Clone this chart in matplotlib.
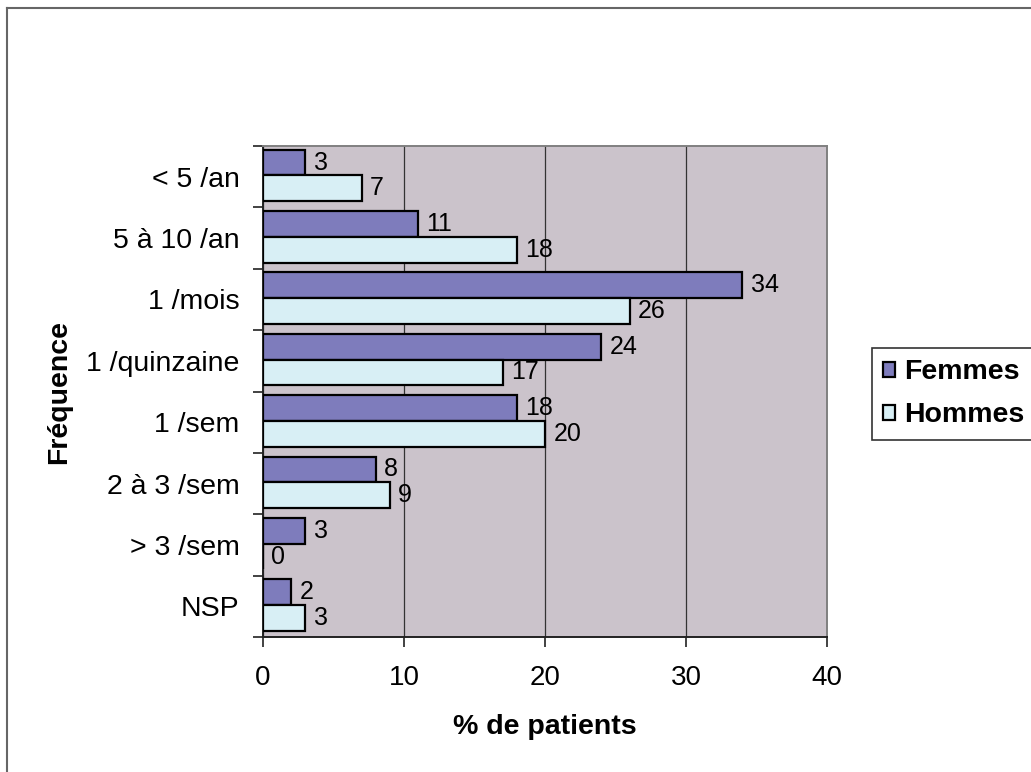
import matplotlib
matplotlib.use("Agg")
import matplotlib.pyplot as plt
import numpy as np
from matplotlib.lines import Line2D

plt.rcParams['font.family'] = ['Liberation Sans', 'DejaVu Sans']

categories = ["< 5 /an", "5 à 10 /an", "1 /mois", "1 /quinzaine", "1 /sem",
              "2 à 3 /sem", "> 3 /sem", "NSP"]
femmes = [3, 11, 34, 24, 18, 8, 3, 2]
hommes = [7, 18, 26, 17, 20, 9, 0, 3]
xticks = [0, 10, 20, 30, 40]

col_f = "#7E7CBC"
col_h = "#D8EFF5"
bg = "#CBC3CB"

fig = plt.figure(figsize=(10.31, 7.72), dpi=100)
ax = fig.add_axes([263/1031, 1-637/772, (827-263)/1031, (637-146)/772])
ax.set_facecolor(bg)

y = np.arange(len(categories))
h = 0.42
shift = -0.02
bf = ax.barh(y - h/2 + shift, femmes, height=h, color=col_f, edgecolor="black",
             linewidth=1.6, label="Femmes", zorder=3)
bh = ax.barh(y + h/2 + shift, hommes, height=h, color=col_h, edgecolor="black",
             linewidth=1.6, label="Hommes", zorder=3)

for rects, vals in ((bf, femmes), (bh, hommes)):
    for r, v in zip(rects, vals):
        ax.annotate(str(v), (v, r.get_y() + r.get_height()/2),
                    xytext=(6, 0), textcoords="offset points",
                    ha="left", va="center", fontsize=18, zorder=4)

ax.set_xlim(0, 40)
ax.set_ylim(len(categories) - 0.5, -0.5)
ax.set_xticks(xticks)
ax.set_xticklabels([str(t) for t in xticks], fontsize=20)
ax.set_yticks(y)
ax.set_yticklabels(categories, fontsize=20.5)
ax.tick_params(axis="y", length=0, pad=17)
ax.set_yticks(np.arange(len(categories) + 1) - 0.5, minor=True)
ax.tick_params(axis="y", which="minor", length=7, width=1.2, color="#222222")
ax.tick_params(axis="x", length=7, width=1.2, pad=13, color="#222222")

ax.grid(axis="x", color="#333333", linewidth=0.9, zorder=1)
ax.set_axisbelow(True)
for s in ("left", "bottom"):
    ax.spines[s].set_color("#222222")
    ax.spines[s].set_linewidth(1.4)
for s in ("top", "right"):
    ax.spines[s].set_color("#808080")
    ax.spines[s].set_linewidth(1.4)

ax.set_xlabel("% de patients", fontsize=20.5, fontweight="bold", labelpad=17)
ax.set_ylabel("Fréquence", fontsize=20.5, fontweight="bold", labelpad=10)

leg = fig.legend(handles=[bf, bh], labels=["Femmes", "Hommes"],
                 loc="upper left", bbox_to_anchor=(872/1031, 1-348/772),
                 prop={"size": 20.5, "weight": "bold"}, frameon=True,
                 fancybox=False, edgecolor="black", handlelength=0.42,
                 handleheight=0.42, handletextpad=0.3, labelspacing=0.6,
                 borderpad=0.4, borderaxespad=0)
leg.get_frame().set_linewidth(1.2)

# outer border (left and top lines)
fig.add_artist(Line2D([7/1031, 7/1031], [0, 1-8/772], transform=fig.transFigure,
                      color="#666666", linewidth=1.5))
fig.add_artist(Line2D([7/1031, 1], [1-8/772, 1-8/772], transform=fig.transFigure,
                      color="#666666", linewidth=1.5))

fig.savefig("out.png", dpi=100, facecolor="white")
